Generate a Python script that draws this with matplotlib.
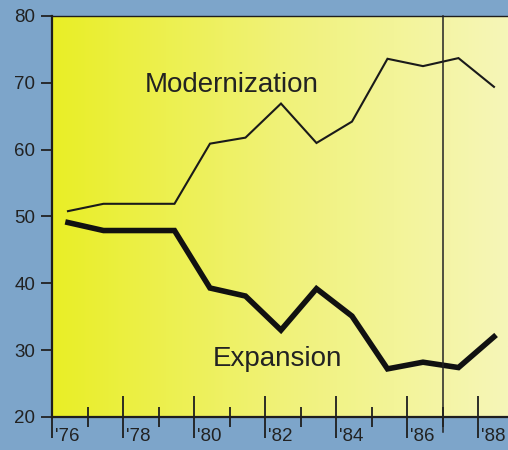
import numpy as np
import matplotlib
matplotlib.use("Agg")
import matplotlib.pyplot as plt
from matplotlib.colors import LinearSegmentedColormap

plt.rcParams['font.family'] = ['Liberation Sans', 'DejaVu Sans']

years = [76, 77, 78, 79, 80, 81, 82, 83, 84, 85, 86, 87, 88]
modernization = [50.8, 51.9, 51.9, 51.9, 60.9, 61.8, 66.9, 61.0, 64.2, 73.6, 72.5, 73.7, 69.4]
expansion = [49.1, 47.9, 47.9, 47.9, 39.3, 38.1, 33.0, 39.2, 35.1, 27.2, 28.2, 27.4, 32.0]
year_labels = ["'76", "'78", "'80", "'82", "'84", "'86", "'88"]
label_years = [76, 78, 80, 82, 84, 86, 88]
y_ticks = [20, 30, 40, 50, 60, 70, 80]
marker_year = 87
series_labels = ["Modernization", "Expansion"]

W, H = 508, 450
fig = plt.figure(figsize=(W / 100, H / 100), dpi=100)
fig.patch.set_facecolor('#7da5ca')

left_px, top_px, bottom_px = 52, 16, 417
ax = fig.add_axes([left_px / W, 1 - bottom_px / H, 1 - left_px / W, (bottom_px - top_px) / H])
xmax = 76 + (W - left_px) / 35.5
ax.set_xlim(76, xmax)
ax.set_ylim(20, 80)

# yellow gradient background
cmap = LinearSegmentedColormap.from_list('yel', ['#e9ee26', '#f0f278', '#f6f6b8'])
grad = np.linspace(0, 1, 256).reshape(1, -1)
ax.imshow(grad, extent=[76, xmax, 20, 80], aspect='auto', cmap=cmap, zorder=0)

x = np.array(years) + 0.45
ax.plot(x, modernization, color='#1a1a1a', lw=1.5, zorder=3, solid_joinstyle='miter')
ax.plot(x, expansion, color='#111111', lw=4.0, zorder=3, solid_joinstyle='miter')

# vertical marker line (extends slightly below axis)
ax.plot([marker_year, marker_year], [17.8, 80], color='#222222', lw=1.1, zorder=4, clip_on=False)

ax.text(78.62, 68.6, series_labels[0], fontsize=20, color='#222222', ha='left', va='baseline')
ax.text(80.54, 27.7, series_labels[1], fontsize=20, color='#222222', ha='left', va='baseline')

for s in ['left', 'bottom', 'top']:
    ax.spines[s].set_color('#1e1e1e')
    ax.spines[s].set_linewidth(1.6)
ax.spines['top'].set_linewidth(1.0)
ax.spines['right'].set_visible(False)

ax.set_yticks(y_ticks)
ax.set_yticklabels([str(v) for v in y_ticks])
ax.tick_params(axis='y', direction='out', length=8, width=1.3, pad=4, labelsize=13.5,
               colors='#222222')

ax.set_xticks(label_years)
ax.set_xticklabels([])
ax.set_xticks([yy for yy in years if yy not in label_years], minor=True)
ax.tick_params(axis='x', which='major', direction='inout', length=30, width=1.3, colors='#1e1e1e')
ax.tick_params(axis='x', which='minor', direction='inout', length=14, width=1.3, colors='#1e1e1e')

for yy, lab in zip(label_years, year_labels):
    ax.text(yy + 0.08, -0.027, lab, transform=ax.get_xaxis_transform(), ha='left', va='top',
            fontsize=13.5, color='#222222')

fig.savefig('out.png', dpi=100, facecolor=fig.get_facecolor())
